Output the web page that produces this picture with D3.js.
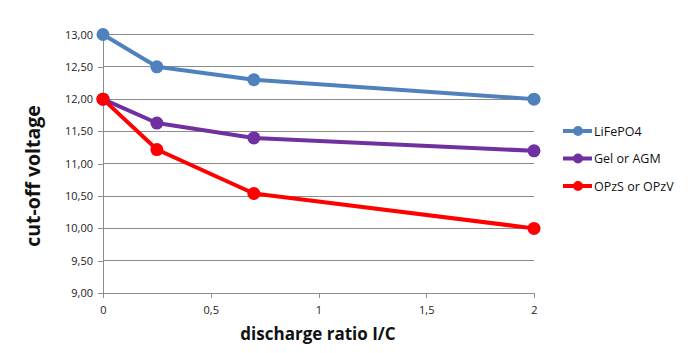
<!DOCTYPE html>
<html><head><meta charset="utf-8">
<script src="https://cdn.jsdelivr.net/npm/d3@7"></script>
<style>body{margin:0;background:#fff}svg{display:block}</style>
</head><body><svg id="c" width="696" height="353"></svg>
<script>
const xValues = [0, 0.25, 0.7, 2];
const seriesNames = ["LiFePO4", "Gel or AGM", "OPzS or OPzV"];
const lifepo4 = [13.0, 12.5, 12.3, 12.0];
const gel = [12.0, 11.63, 11.4, 11.2];
const opzs = [12.0, 11.22, 10.54, 10.0];
const yTicks = [9, 9.5, 10, 10.5, 11, 11.5, 12, 12.5, 13];
const xTicks = [0, 0.5, 1, 1.5, 2];
const colors = ["#4F81BD", "#7030A0", "#FF0000"];

const svg = d3.select("#c");
const x = d3.scaleLinear().domain([0, 2]).range([103, 534]);
const y = d3.scaleLinear().domain([9, 13]).range([293, 34.5]);
const fmtY = d => d3.format(".2f")(d).replace(".", ",");
const fmtX = d => String(d).replace(".", ",");
const font = "'Open Sans', 'Noto Sans', sans-serif";

// grid
svg.append("g").selectAll("line").data(yTicks.filter(d => d > 9)).join("line")
  .attr("x1", x(0)).attr("x2", x(2)).attr("y1", d => y(d)).attr("y2", d => y(d))
  .attr("stroke", "#8c8c8c").attr("stroke-width", 1).attr("shape-rendering", "crispEdges");

const yAxis = svg.append("g").attr("transform", `translate(${x(0)},0)`)
  .call(d3.axisLeft(y).tickValues(yTicks).tickFormat(fmtY).tickSizeInner(5).tickSizeOuter(0).tickPadding(5));
const xAxis = svg.append("g").attr("transform", `translate(0,${y(9)})`)
  .call(d3.axisBottom(x).tickValues(xTicks).tickFormat(fmtX).tickSizeInner(5).tickSizeOuter(0).tickPadding(8));
[yAxis, xAxis].forEach(a => {
  a.selectAll("path,line").attr("stroke", "#8c8c8c").attr("shape-rendering", "crispEdges");
  a.selectAll("text").attr("font-family", font).attr("font-size", 11).attr("fill", "#222");
});

const data = [lifepo4, gel, opzs];
const line = d3.line().x((d, i) => x(xValues[i])).y(d => y(d));
[0, 1, 2].forEach(k => {
  const g = svg.append("g");
  g.append("path").datum(data[k]).attr("d", line).attr("fill", "none")
    .attr("stroke", colors[k]).attr("stroke-width", 4).attr("stroke-linejoin", "round");
  g.selectAll("circle").data(data[k]).join("circle")
    .attr("cx", (d, i) => x(xValues[i])).attr("cy", d => y(d)).attr("r", 6.5).attr("fill", colors[k]);
});

// axis titles
svg.append("text").attr("x", 318).attr("y", 340).attr("text-anchor", "middle")
  .attr("font-family", font).attr("font-weight", "bold").attr("font-size", 17).attr("fill", "#111")
  .text("discharge ratio I/C");
svg.append("text").attr("transform", "translate(40,176) rotate(-90)").attr("text-anchor", "middle")
  .attr("font-family", font).attr("font-weight", "bold").attr("font-size", 19.5).attr("fill", "#111")
  .text("cut-off voltage");

// legend
const leg = svg.append("g");
seriesNames.forEach((n, k) => {
  const ly = 131 + k * 27.5;
  leg.append("line").attr("x1", 563).attr("x2", 592).attr("y1", ly).attr("y2", ly)
    .attr("stroke", colors[k]).attr("stroke-width", 4);
  leg.append("circle").attr("cx", 578).attr("cy", ly).attr("r", 5).attr("fill", colors[k]);
  leg.append("text").attr("x", 594).attr("y", ly + 4.5).attr("font-family", font)
    .attr("font-size", 12.5).attr("fill", "#111").text(n);
});
</script></body></html>
